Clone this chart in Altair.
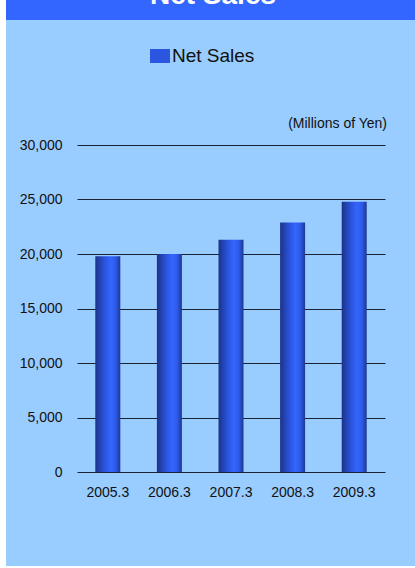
import altair as alt
import pandas as pd

# ---- data ----
periods = ["2005.3", "2006.3", "2007.3", "2008.3", "2009.3"]
net_sales = [19800, 20000, 21300, 22900, 24800]
series_name = ["Net Sales"] * len(periods)
y_ticks = [0, 5000, 10000, 15000, 20000, 25000, 30000]

df = pd.DataFrame({"period": periods, "sales": net_sales, "series": series_name})
one = pd.DataFrame({"k": [0]})

FONT = "Liberation Sans"
W, H = 308, 327
PL, PT = 77, 145  # plot origin in page

bar_grad = alt.Gradient(
    gradient="linear", x1=0, x2=1, y1=0, y2=0,
    stops=[
        alt.GradientStop(offset=0, color="#1B3388"),
        alt.GradientStop(offset=0.35, color="#2A52D8"),
        alt.GradientStop(offset=0.62, color="#3366FF"),
        alt.GradientStop(offset=0.8, color="#2E5BEA"),
        alt.GradientStop(offset=1, color="#1D3792"),
    ],
)

# white margins (left strip, bottom strip) over the light-blue background
left_strip = alt.Chart(one).mark_rect(color="white").encode(
    x=alt.value(0 - PL), x2=alt.value(6 - PL),
    y=alt.value(0 - PT), y2=alt.value(568 - PT),
)
bottom_strip = alt.Chart(one).mark_rect(color="white").encode(
    x=alt.value(0 - PL), x2=alt.value(415 - PL),
    y=alt.value(566 - PT), y2=alt.value(568 - PT),
)
band = alt.Chart(one).mark_rect(color="#3366FF").encode(
    x=alt.value(6 - PL), x2=alt.value(415 - PL),
    y=alt.value(0 - PT - 5), y2=alt.value(20 - PT),
)
title = alt.Chart(one).mark_text(
    text="Net Sales", font=FONT, fontSize=28, fontWeight="bold",
    color="white", align="center", baseline="alphabetic",
).encode(x=alt.value(213 - PL), y=alt.value(4 - PT))
units = alt.Chart(one).mark_text(
    text="(Millions of Yen)", font=FONT, fontSize=14,
    color="#111111", align="right", baseline="alphabetic",
).encode(x=alt.value(387 - PL), y=alt.value(128 - PT))

x_enc = alt.X(
    "period:N", sort=periods, title=None,
    scale=alt.Scale(paddingInner=0.59, paddingOuter=0.295),
    axis=alt.Axis(labelAngle=0, labelFont=FONT, labelFontSize=14,
                  labelColor="#111111", labelPadding=13, domain=False,
                  ticks=False, grid=False),
)
y_enc = alt.Y(
    "sales:Q", title=None,
    scale=alt.Scale(domain=[0, 30000], nice=False),
    axis=alt.Axis(values=y_ticks, format=",.0f", labelFont=FONT,
                  labelFontSize=14, labelColor="#111111", labelPadding=15,
                  domain=False, ticks=False, grid=True,
                  gridColor="#1A2233", gridWidth=1),
)

bars = alt.Chart(df).mark_bar(color=bar_grad, size=25).encode(x=x_enc, y=y_enc)

legend_layer = alt.Chart(df).mark_square(opacity=0).encode(
    x=alt.X("period:N", sort=periods),
    y=alt.Y("sales:Q"),
    color=alt.Color(
        "series:N", scale=alt.Scale(range=["#2C55E0"]),
        legend=alt.Legend(
            orient="none", legendX=150 - PL, legendY=46 - PT, title=None,
            symbolType="M-1,-0.7L1,-0.7L1,0.7L-1,0.7Z", symbolSize=400,
            symbolOpacity=1, symbolStrokeWidth=0, labelFont=FONT,
            labelFontSize=19, labelColor="#111111", labelOffset=2,
            padding=0,
        ),
    ),
)

chart = alt.layer(left_strip, bottom_strip, band, title, units, bars, legend_layer).properties(
    width=W, height=H,
    autosize=alt.AutoSizeParams(type="none"),
    padding={"left": PL, "top": PT, "right": 415 - PL - W, "bottom": 568 - PT - H},
    background="#99CCFF",
).configure_view(stroke=None)

chart.save("out.html", embed_options={"renderer": "svg", "actions": False})
